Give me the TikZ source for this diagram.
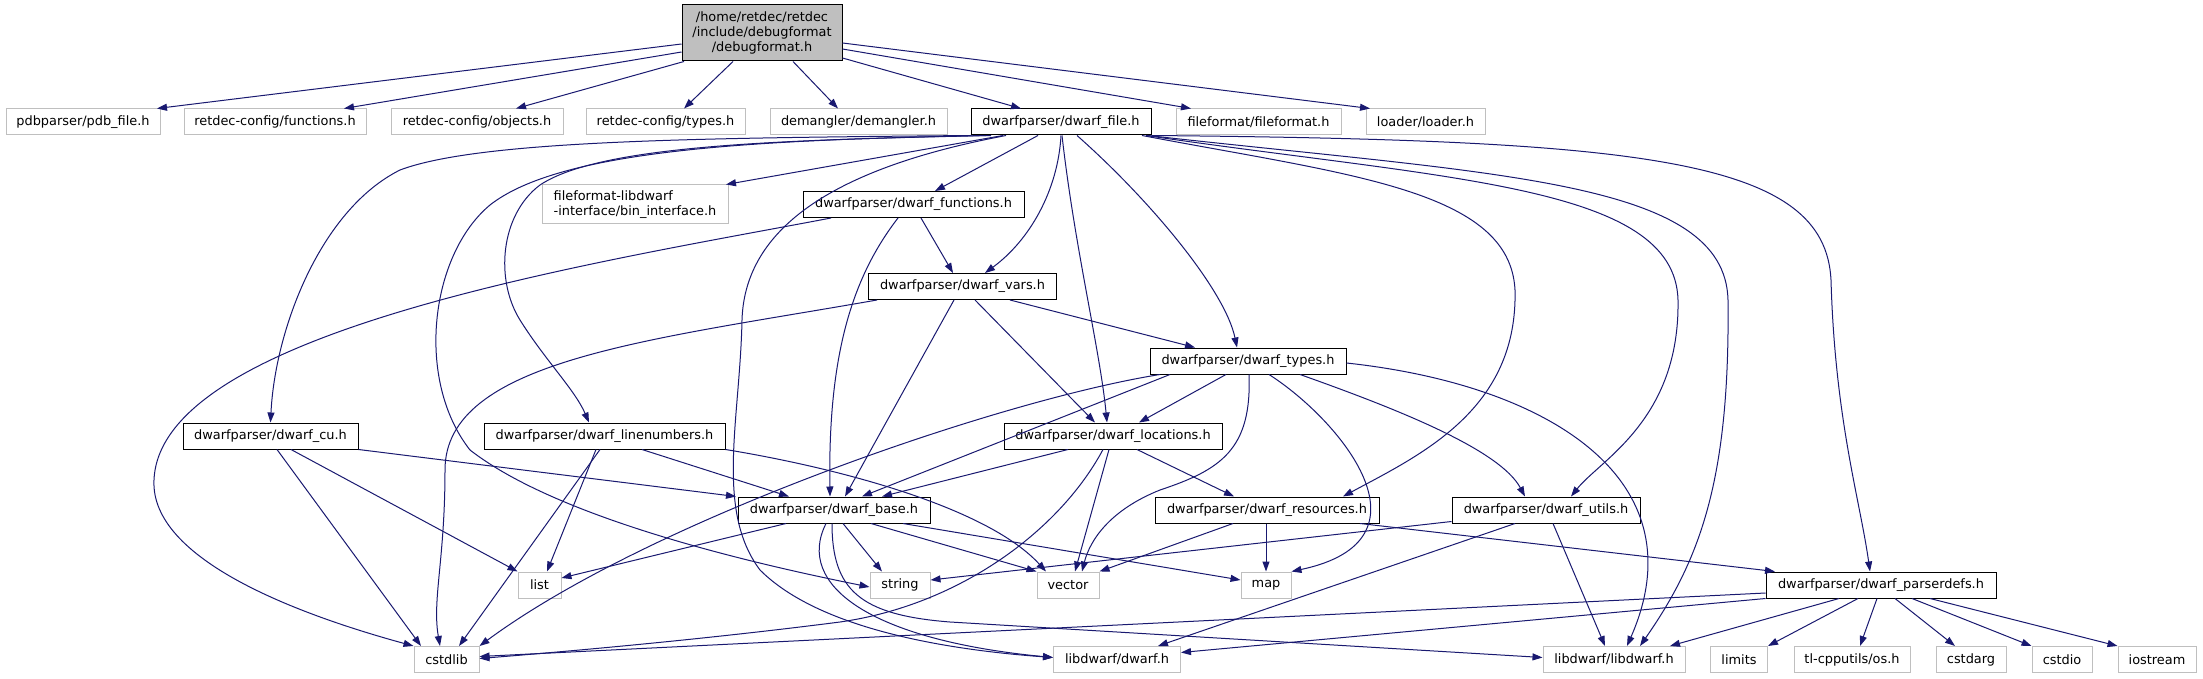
\documentclass[tikz,border=0pt]{standalone}
\usepackage{fontspec}
\setmainfont{DejaVu Sans}
\usetikzlibrary{arrows.meta}
\definecolor{edgeblue}{HTML}{191970}
\definecolor{lgray}{HTML}{BFBFBF}
\definecolor{rootgray}{HTML}{BFBFBF}
\newcommand\dgfont{\fontsize{12.9}{15}\selectfont}
\tikzset{
 box/.style={rectangle, inner sep=0pt, minimum height=26pt, fill=white, font=\dgfont, text=black},
 bb/.style={box, draw=black, line width=1pt},
 gb/.style={box, draw=lgray, line width=1pt},
 rt/.style={box, draw=black, fill=rootgray, line width=1pt},
 e/.style={draw=edgeblue, line width=1pt, -{Triangle[length=10pt,width=7pt]}},
}
\begin{document}
\begin{tikzpicture}[x=1pt,y=-1pt]
\fill[white] (0,0) rectangle (2203,679);
\useasboundingbox (0,0) rectangle (2203,679);
% nodes
\node[rt, minimum width=160pt, minimum height=56pt, align=center] (root) at (762,33) {/home/retdec/retdec\\/include/debugformat\\/debugformat.h};
\node[gb, minimum width=154pt] (pdb) at (83,122) {pdbparser/pdb\_file.h};
\node[gb, minimum width=182pt] (rcf) at (275,122) {retdec-config/functions.h};
\node[gb, minimum width=172pt] (rco) at (477,122) {retdec-config/objects.h};
\node[gb, minimum width=159pt] (rct) at (665.5,122) {retdec-config/types.h};
\node[gb, minimum width=177pt] (dem) at (858.5,122) {demangler/demangler.h};
\node[bb, minimum width=180pt] (df) at (1061,122) {dwarfparser/dwarf\_file.h};
\node[gb, minimum width=165pt] (ff) at (1258.5,122) {fileformat/fileformat.h};
\node[gb, minimum width=119pt] (ld) at (1425.5,122) {loader/loader.h};
\node[gb, minimum width=186pt, minimum height=39pt, align=left] (bi) at (635,204.5) {fileformat-libdwarf\\-interface/bin\_interface.h};
\node[bb, minimum width=221pt] (fn) at (913.5,204.5) {dwarfparser/dwarf\_functions.h};
\node[bb, minimum width=188pt] (vars) at (962.5,286.5) {dwarfparser/dwarf\_vars.h};
\node[bb, minimum width=196pt] (types) at (1248,361) {dwarfparser/dwarf\_types.h};
\node[bb, minimum width=175pt] (cu) at (270.5,436) {dwarfparser/dwarf\_cu.h};
\node[bb, minimum width=241pt] (ln) at (604.5,436) {dwarfparser/dwarf\_linenumbers.h};
\node[bb, minimum width=218pt] (loc) at (1113,436) {dwarfparser/dwarf\_locations.h};
\node[bb, minimum width=192pt] (base) at (834,510) {dwarfparser/dwarf\_base.h};
\node[bb, minimum width=224pt] (res) at (1267,510) {dwarfparser/dwarf\_resources.h};
\node[bb, minimum width=188pt] (ut) at (1546,510) {dwarfparser/dwarf\_utils.h};
\node[bb, minimum width=230pt] (pd) at (1881,585) {dwarfparser/dwarf\_parserdefs.h};
\node[gb, minimum width=43pt] (list) at (539.5,585) {list};
\node[gb, minimum width=60pt] (str) at (900,585) {string};
\node[gb, minimum width=62pt] (vec) at (1068,585) {vector};
\node[gb, minimum width=50pt] (map) at (1266,585) {map};
\node[gb, minimum width=65pt] (cst) at (446.5,659.5) {cstdlib};
\node[gb, minimum width=127pt] (dh) at (1117,659.5) {libdwarf/dwarf.h};
\node[gb, minimum width=142pt] (ldw) at (1614,659.5) {libdwarf/libdwarf.h};
\node[gb, minimum width=57pt] (lim) at (1739,659.5) {limits};
\node[gb, minimum width=116pt] (os) at (1852,659.5) {tl-cpputils/os.h};
\node[gb, minimum width=70pt] (cda) at (1971,659.5) {cstdarg};
\node[gb, minimum width=60pt] (cio) at (2062,659.5) {cstdio};
\node[gb, minimum width=78pt] (ios) at (2157,659.5) {iostream};
% root
\draw[e] ([yshift=-11pt]root.west) -- ([xshift=74pt]pdb.north);
\draw[e] ([yshift=-19pt]root.west) -- ([xshift=69pt]rcf.north);
\draw[e] ([xshift=-78pt]root.south) -- ([xshift=39pt]rco.north);
\draw[e] ([xshift=-29pt]root.south) -- ([xshift=18.5pt]rct.north);
\draw[e] ([xshift=31pt]root.south) -- ([xshift=-20.5pt]dem.north);
\draw[e] ([yshift=-25pt]root.east) -- ([xshift=-40pt]df.north);
\draw[e] ([yshift=-16pt]root.east) -- ([xshift=-67.5pt]ff.north);
\draw[e] ([yshift=-10pt]root.east) -- ([xshift=-55.5pt]ld.north);
% dwarf_file
\draw[e] ([xshift=-58pt]df.south) -- ([xshift=91pt]bi.north);
\draw[e] ([xshift=-23pt]df.south) -- ([xshift=21.5pt]fn.north);
\draw[e] (df.south) .. controls (1058,190) and (1030,240) .. ([xshift=22.5pt]vars.north);
\draw[e] ([xshift=16pt]df.south) .. controls (1150,200) and (1225,290) .. ([xshift=-11pt]types.north);
\draw[e] ([xshift=1pt]df.south) .. controls (1075,250) and (1100,350) .. ([xshift=-6pt]loc.north);
\draw[e] (df.south west) .. controls (700,138) and (480,140) .. (400,170) .. controls (320,210) and (275,330) .. (cu.north);
\draw[e] ([xshift=-75pt]df.south) .. controls (750,140) and (560,150) .. (490,205) .. controls (430,255) and (415,380) .. (470,450) .. controls (560,520) and (760,565) .. ([yshift=-2pt]str.west);
\draw[e] ([xshift=-70pt]df.south) .. controls (780,140) and (600,145) .. (540,185) .. controls (500,215) and (495,280) .. (520,320) .. controls (545,360) and (575,390) .. ([xshift=-15.5pt]ln.north);
\draw[e] ([xshift=-55pt]df.south) .. controls (850,165) and (745,220) .. (742,320) .. controls (740,420) and (715,510) .. (760,570) .. controls (820,630) and (950,650) .. ([yshift=2pt]dh.west);
\draw[e] ([xshift=81pt]df.south) .. controls (1350,175) and (1510,190) .. (1515,290) .. controls (1518,410) and (1420,455) .. ([xshift=76pt]res.north);
\draw[e] ([xshift=85pt]df.south) .. controls (1450,180) and (1675,185) .. (1678,300) .. controls (1680,420) and (1600,460) .. ([xshift=25pt]ut.north);
\draw[e] ([xshift=87pt]df.south) .. controls (1500,175) and (1725,180) .. (1728,300) .. controls (1730,480) and (1700,560) .. ([xshift=26pt]ldw.north);
\draw[e] (df.south east) .. controls (1650,140) and (1825,160) .. (1831,280) .. controls (1835,420) and (1860,500) .. ([xshift=-11pt]pd.north);
% dwarf_functions
\draw[e] ([xshift=7.5pt]fn.south) -- ([xshift=-9.5pt]vars.north);
\draw[e] ([xshift=-15.5pt]fn.south) .. controls (850,280) and (828,360) .. ([xshift=-4pt]base.north);
\draw[e] ([xshift=-82.5pt]fn.south) .. controls (600,262) and (160,330) .. (154,480) .. controls (150,560) and (300,615) .. (cst.north west);
% dwarf_vars
\draw[e] ([xshift=47.5pt]vars.south) -- ([xshift=-53pt]types.north);
\draw[e] ([xshift=12.5pt]vars.south) -- ([xshift=-18pt]loc.north);
\draw[e] ([xshift=-8.5pt]vars.south) -- ([xshift=11pt]base.north);
\draw[e] ([xshift=-85.5pt]vars.south) .. controls (650,340) and (445,360) .. (445,470) .. controls (445,560) and (432,600) .. ([xshift=-6.5pt]cst.north);
% dwarf_types
\draw[e] ([xshift=-22pt]types.south) -- ([xshift=26pt]loc.north);
\draw[e] ([xshift=-78pt]types.south) -- ([xshift=28pt]base.north);
\draw[e] ([xshift=-88pt]types.south) .. controls (1000,400) and (650,520) .. (cst.north east);
\draw[e] ([xshift=1pt]types.south) .. controls (1252,450) and (1220,470) .. (1160,490) .. controls (1110,510) and (1090,540) .. ([xshift=14pt]vec.north);
\draw[e] ([xshift=21pt]types.south) .. controls (1340,420) and (1440,540) .. (map.north east);
\draw[e] ([xshift=52pt]types.south) .. controls (1400,410) and (1500,450) .. ([xshift=-21pt]ut.north);
\draw[e] ([yshift=-2pt]types.east) .. controls (1550,385) and (1700,480) .. ([xshift=13pt]ldw.north);
% dwarf_cu
\draw[e] (cu.south east) -- ([xshift=-98pt]base.north);
\draw[e] ([xshift=20.5pt]cu.south) -- (list.north west);
\draw[e] ([xshift=6.5pt]cu.south) -- ([xshift=-25.5pt]cst.north);
% dwarf_linenumbers
\draw[e] ([xshift=37.5pt]ln.south) -- ([xshift=-45pt]base.north);
\draw[e] (ln.south east) .. controls (850,470) and (990,510) .. ([xshift=-22pt]vec.north);
\draw[e] ([xshift=-8.5pt]ln.south) -- ([xshift=7.5pt]list.north);
\draw[e] ([xshift=-4.5pt]ln.south) -- ([xshift=12.5pt]cst.north);
% dwarf_locations
\draw[e] ([xshift=-45pt]loc.south) -- ([xshift=48pt]base.north);
\draw[e] ([xshift=-4pt]loc.south) -- ([xshift=7pt]vec.north);
\draw[e] ([xshift=-10pt]loc.south) .. controls (1060,530) and (960,605) .. (840,622) .. controls (700,640) and (560,652) .. ([yshift=1pt]cst.east);
\draw[e] ([xshift=24pt]loc.south) -- ([xshift=-33pt]res.north);
% dwarf_base
\draw[e] ([xshift=-48pt]base.south) -- ([yshift=7pt]list.east);
\draw[e] ([xshift=9pt]base.south) -- ([xshift=-18pt]str.north);
\draw[e] ([xshift=37pt]base.south) -- (vec.north west);
\draw[e] ([xshift=69pt]base.south) -- ([yshift=5pt]map.west);
\draw[e] ([xshift=-8pt]base.south) .. controls (795,585) and (870,640) .. ([yshift=2pt]dh.west);
\draw[e] ([xshift=-2pt]base.south) .. controls (832,590) and (860,615) .. (950,622) -- ([yshift=2pt]ldw.west);
% dwarf_resources
\draw[e] ([xshift=-34pt]res.south) -- (vec.north east);
\draw[e] ([xshift=-1pt]res.south) -- (map.north);
\draw[e] ([xshift=93pt]res.south) -- ([xshift=-106pt]pd.north);
% dwarf_utils
\draw[e] ([yshift=2pt]ut.south west) -- ([yshift=5pt]str.east);
\draw[e] ([xshift=-31pt]ut.south) -- ([xshift=41pt]dh.north);
\draw[e] ([xshift=7pt]ut.south) -- ([xshift=-9pt]ldw.north);
% dwarf_parserdefs
\draw[e] ([yshift=-8pt]pd.west) -- ([yshift=3pt]cst.east);
\draw[e] (pd.south west) -- ([yshift=7pt]dh.east);
\draw[e] ([xshift=-42pt]pd.south) -- ([xshift=56pt]ldw.north);
\draw[e] ([xshift=-23pt]pd.south) -- (lim.north east);
\draw[e] ([xshift=-4pt]pd.south) -- ([xshift=8pt]os.north);
\draw[e] ([xshift=14pt]pd.south) -- ([xshift=-16pt]cda.north);
\draw[e] ([xshift=31pt]pd.south) -- (cio.north west);
\draw[e] ([xshift=49pt]pd.south) -- (ios.north west);
\end{tikzpicture}
\end{document}
